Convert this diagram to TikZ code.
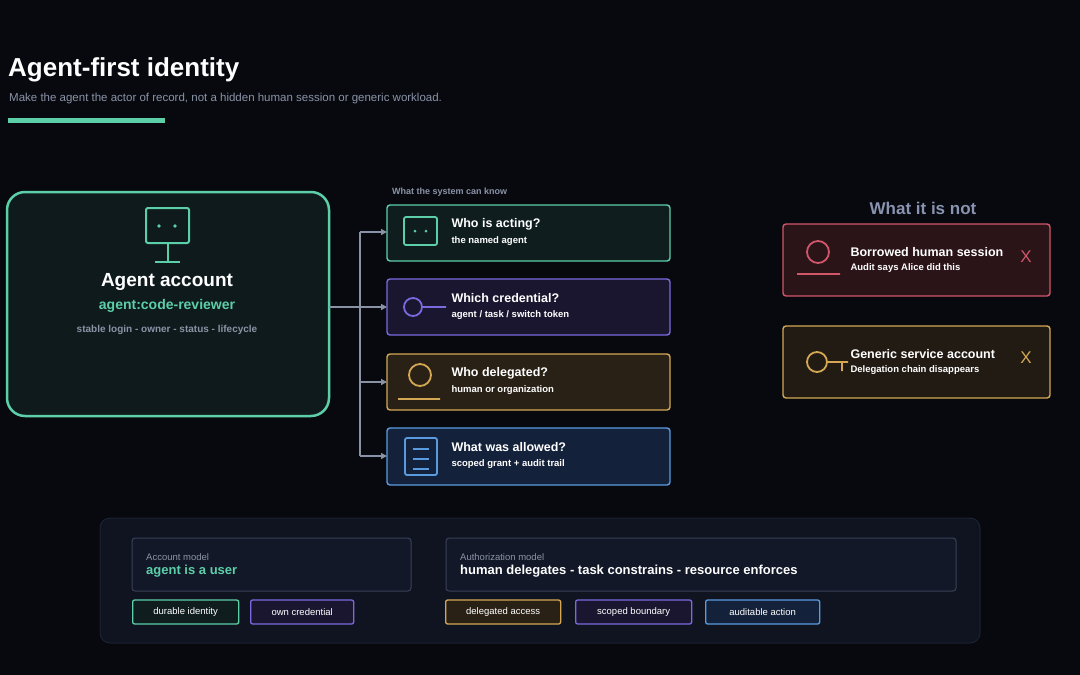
\documentclass[tikz,border=0pt]{standalone}
\usepackage{fontspec}
\setmainfont{Liberation Sans}
\usetikzlibrary{arrows.meta}
\definecolor{bg}{HTML}{07090F}
\definecolor{grn}{HTML}{5CCFA8}
\definecolor{pur}{HTML}{7A6AE0}
\definecolor{gld}{HTML}{D4A853}
\definecolor{blu}{HTML}{5A9BE0}
\definecolor{rd}{HTML}{D0566A}
\definecolor{gry}{HTML}{8A93A6}
\definecolor{fagent}{HTML}{0E1A1C}
\definecolor{fgrn}{HTML}{0F1D1F}
\definecolor{fpur}{HTML}{1A1630}
\definecolor{fgld}{HTML}{2A2116}
\definecolor{fblu}{HTML}{14213A}
\definecolor{frd}{HTML}{2A1418}
\definecolor{fgld2}{HTML}{221B14}
\definecolor{notc}{HTML}{8A93B0}
\definecolor{pnlb}{HTML}{1C2233}
\definecolor{pnlf}{HTML}{0F1420}
\definecolor{boxb}{HTML}{3A4156}
\definecolor{boxf}{HTML}{121828}
\tikzset{
 fs/.style={font=\fontsize{#1}{#1}\selectfont},
 card/.style={draw=#1, line width=1.4pt, rounded corners=3pt},
 tag/.style={draw=#1, line width=1.3pt, rounded corners=2pt, text=white, minimum height=24pt, inner sep=0pt, fs=9.5, anchor=west},
 conn/.style={draw=gry, line width=1.3pt},
 arr/.style={conn, -{Triangle[length=6pt,width=6pt]}},
 ttl/.style={anchor=west, text=white, font=\bfseries\fontsize{12.5}{12.5}\selectfont},
 sub/.style={anchor=west, text=white, font=\bfseries\fontsize{9.5}{9.5}\selectfont},
}
\begin{document}
\begin{tikzpicture}[x=1pt,y=-1pt]
\fill[bg] (0,0) rectangle (1080,675);
\useasboundingbox (0,0) rectangle (1080,675);
% header
\node[anchor=base west, text=white, inner sep=0pt, font=\bfseries\fontsize{26}{26}\selectfont] (title) at (8,76) {Agent-first identity};
\node[anchor=base west, text=gry, inner sep=0pt, fs=11.5] (subt) at (9,101) {Make the agent the actor of record, not a hidden human session or generic workload.};
\fill[grn] (8,118) rectangle (165,123);
% agent box
\draw[grn, line width=2.5pt, fill=fagent, rounded corners=18pt] (7,192) rectangle (329,416);
\coordinate (agent) at (329,307);
\draw[grn, line width=2pt, rounded corners=2pt] (146,208) rectangle (189,243);
\fill[grn] (159,226) circle (1.8) (175,226) circle (1.8);
\draw[grn, line width=2pt] (167.5,243) -- (167.5,262) (155,262) -- (180,262);
\node[text=white, font=\bfseries\fontsize{19}{19}\selectfont] (an) at (167,282) {Agent account};
\node[text=grn, font=\bfseries\fontsize{14}{14}\selectfont] (aid) at (167,306) {agent:code-reviewer};
\node[text=gry, font=\bfseries\fontsize{10}{10}\selectfont] (adesc) at (167,330) {stable login - owner - status - lifecycle};
% label
\node[anchor=west, text=gry, font=\bfseries\fontsize{9}{9}\selectfont, inner sep=0pt] (know) at (392,192) {What the system can know};
% cards
\draw[card=grn, fill=fgrn] (387,205) rectangle (670,261);
\draw[card=pur, fill=fpur] (387,279) rectangle (670,335);
\draw[card=gld, fill=fgld] (387,354) rectangle (670,410);
\draw[card=blu, fill=fblu] (387,428) rectangle (670,485);
\coordinate (c1) at (387,232); \coordinate (c2) at (387,307);
\coordinate (c3) at (387,382); \coordinate (c4) at (387,456);
\coordinate (j) at (360,307);
\draw[conn] (agent) -- (j);
\draw[conn] (360,232) -- (360,456);
\draw[arr] (360,232) -- (c1);
\draw[arr] (j) -- (c2);
\draw[arr] (360,382) -- (c3);
\draw[arr] (360,456) -- (c4);
% icons
\draw[grn, line width=1.8pt, rounded corners=2pt] (404,217) rectangle (437,245);
\fill[grn] (415,231) circle (1.5) (426,231) circle (1.5);
\draw[pur, line width=1.8pt] (413,307) circle (9) (422,307) -- (446,307);
\draw[gld, line width=1.8pt] (420,375) circle (11) (398,399) -- (440,399);
\draw[blu, line width=1.8pt, rounded corners=2pt] (405,438) rectangle (437,475);
\draw[blu, line width=1.3pt] (413,449) -- (429,449) (413,459) -- (429,459) (413,469) -- (429,469);
\node[ttl] (t1) at (448,224) {Who is acting?};
\node[sub] (s1) at (448,241) {the named agent};
\node[ttl] (t2) at (448,298) {Which credential?};
\node[sub] (s2) at (448,315) {agent / task / switch token};
\node[ttl] (t3) at (448,373) {Who delegated?};
\node[sub] (s3) at (448,390) {human or organization};
\node[ttl] (t4) at (448,447) {What was allowed?};
\node[sub] (s4) at (448,464) {scoped grant + audit trail};
% what it is not
\node[text=notc, font=\bfseries\fontsize{17}{17}\selectfont] (not) at (923,208) {What it is not};
\draw[card=rd, fill=frd] (783,224) rectangle (1050,296);
\draw[card=gld, fill=fgld2] (783,326) rectangle (1050,398);
\draw[rd, line width=1.8pt] (818,252) circle (11) (797,274) -- (840,274);
\draw[gld, line width=1.8pt] (817,362) circle (10) (827,362) -- (848,362) (842,362) -- (842,371);
\node[ttl] (r1) at (847,252) {Borrowed human session};
\node[sub] (r2) at (847,268) {Audit says Alice did this};
\node[text=rd, fs=17] (x1) at (1026,257) {X};
\node[ttl] (g1) at (847,354) {Generic service account};
\node[sub] (g2) at (847,370) {Delegation chain disappears};
\node[text=gld, fs=17] (x2) at (1026,358) {X};
% bottom panel
\draw[draw=pnlb, line width=1pt, fill=pnlf, rounded corners=10pt] (100,518) rectangle (980,643);
\draw[draw=boxb, line width=1pt, fill=boxf, rounded corners=3pt] (132,538) rectangle (411,591);
\draw[draw=boxb, line width=1pt, fill=boxf, rounded corners=3pt] (446,538) rectangle (956,591);
\node[anchor=west, text=gry, fs=9.5, inner sep=0pt] (am) at (146,557) {Account model};
\node[anchor=west, text=grn, font=\bfseries\fontsize{13}{13}\selectfont, inner sep=0pt] (amv) at (146,571) {agent is a user};
\node[anchor=west, text=gry, fs=9.5, inner sep=0pt] (zm) at (460,557) {Authorization model};
\node[anchor=west, text=white, font=\bfseries\fontsize{13}{13}\selectfont, inner sep=0pt] (zmv) at (460,571) {human delegates - task constrains - resource enforces};
\node[tag=grn, fill=fgrn, minimum width=106pt] (tg1) at (132,612) {durable identity};
\node[tag=pur, fill=fpur, minimum width=103pt] (tg2) at (250,612) {own credential};
\node[tag=gld, fill=fgld, minimum width=115pt] (tg3) at (445,612) {delegated access};
\node[tag=pur, fill=fpur, minimum width=116pt] (tg4) at (575,612) {scoped boundary};
\node[tag=blu, fill=fblu, minimum width=114pt] (tg5) at (705,612) {auditable action};
\end{tikzpicture}
\end{document}
